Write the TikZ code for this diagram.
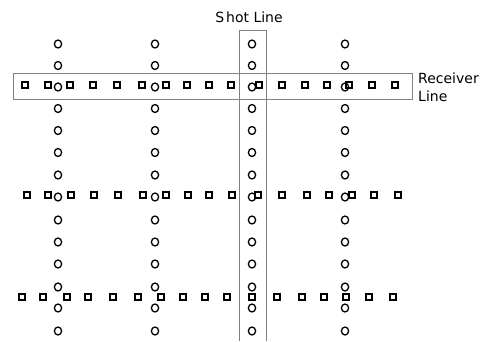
\documentclass[tikz,border=0pt]{standalone}
\usepackage{fontspec}
\setmainfont{DejaVu Sans}
\usetikzlibrary{shapes.geometric}
\begin{document}
\begin{tikzpicture}[x=1pt,y=-1pt,
  circ/.style={draw=black,line width=1.3pt,ellipse,inner sep=0pt,minimum width=7.2pt,minimum height=8pt},
  sq/.style={draw=black,line width=1.3pt,rectangle,inner sep=0pt,minimum size=6.2pt},
  boxline/.style={draw=black!50,line width=0.9pt},
  lbl/.style={font=\fontsize{14}{16}\selectfont,inner sep=0pt}]
\useasboundingbox (0,0) rectangle (486,341);
% receiver line box
\draw[boxline] (13,73) rectangle (412,99);
% shot line box (open at the bottom)
\draw[boxline] (239.5,341) -- (239.5,30) -- (266.5,30) -- (266.5,341);
% shot points (circles)
\foreach \cx [count=\i] in {58,155,252,345}{
  \foreach \cy [count=\j] in {44,65.5,87,108.5,130.5,152.5,175,197,220,242,264,287,308,331}{
    \node[circ] (c\i-\j) at (\cx,\cy) {};
  }
}
% receivers (squares), row 1
\foreach \sx [count=\k] in {25,48,70,93,117,142,166,187,209,231,259,282,305,327,349,372,395}{
  \node[sq] (a\k) at (\sx,85) {};
}
% row 2
\foreach \sx [count=\k] in {27,48,71,94,118,143,166,188,209,232,258,282,307,329,352,374,398}{
  \node[sq] (b\k) at (\sx,195) {};
}
% row 3
\foreach \sx [count=\k] in {22,43,67,88,113,138,161,183,205,227,252,277,302,324,346,369,393}{
  \node[sq] (d\k) at (\sx,297) {};
}
% labels
\node[lbl] (shot) at (249,17) {S\kern2pt hot Line};
\node[lbl,anchor=west] (rec1) at (418,78) {Receiver};
\node[lbl,anchor=west] (rec2) at (418,96) {Line};
\end{tikzpicture}
\end{document}
